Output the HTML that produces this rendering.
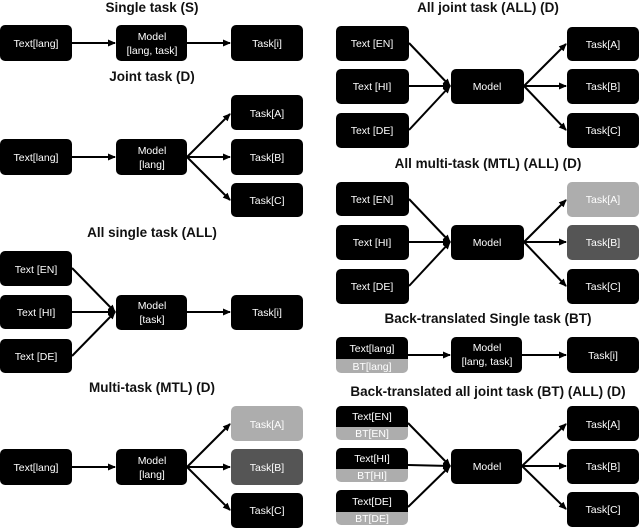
<!DOCTYPE html>
<html><head><meta charset="utf-8"><style>
html,body{margin:0;padding:0;background:#fff;}
svg{display:block;}
.t{font-family:"Liberation Sans",sans-serif;font-weight:bold;font-size:13.5px;fill:#111;text-anchor:middle;}
.l{font-family:"Liberation Sans",sans-serif;font-size:10.5px;fill:#fff;text-anchor:middle;}
.g{fill:#222;}
</style></head><body>
<svg width="640" height="528" viewBox="0 0 640 528" xmlns="http://www.w3.org/2000/svg">
<defs><marker id="a" markerWidth="8" markerHeight="8" refX="7" refY="4" orient="auto" markerUnits="userSpaceOnUse"><path d="M0,0.5 L8,4 L0,7.5 z" fill="#000"/></marker></defs>
<g stroke="#000" stroke-width="2" fill="none" marker-end="url(#a)">
<!-- single task -->
<line x1="72" y1="43" x2="115" y2="43"/><line x1="187" y1="43" x2="230" y2="43"/>
<!-- joint -->
<line x1="72" y1="157" x2="115" y2="157"/>
<line x1="187" y1="157" x2="230" y2="114"/><line x1="187" y1="157" x2="230" y2="157"/><line x1="187" y1="157" x2="230" y2="200"/>
<!-- all single -->
<line x1="72" y1="268" x2="115" y2="312"/><line x1="72" y1="312" x2="115" y2="312"/><line x1="72" y1="356" x2="115" y2="312"/>
<line x1="187" y1="312" x2="230" y2="312"/>
<!-- multi -->
<line x1="72" y1="467" x2="115" y2="467"/>
<line x1="187" y1="467" x2="230" y2="424"/><line x1="187" y1="467" x2="230" y2="467"/><line x1="187" y1="467" x2="230" y2="510"/>
<!-- all joint -->
<line x1="409" y1="43" x2="450" y2="86"/><line x1="409" y1="86" x2="450" y2="86"/><line x1="409" y1="130" x2="450" y2="86"/>
<line x1="524" y1="86" x2="566" y2="44"/><line x1="524" y1="86" x2="566" y2="86"/><line x1="524" y1="86" x2="566" y2="130"/>
<!-- all mtl -->
<line x1="409" y1="199" x2="450" y2="242"/><line x1="409" y1="242" x2="450" y2="242"/><line x1="409" y1="286" x2="450" y2="242"/>
<line x1="524" y1="242" x2="566" y2="200"/><line x1="524" y1="242" x2="566" y2="242"/><line x1="524" y1="242" x2="566" y2="286"/>
<!-- bt single -->
<line x1="408" y1="355" x2="450" y2="355"/><line x1="522" y1="355" x2="566" y2="355"/>
<!-- bt all -->
<line x1="408" y1="423" x2="450" y2="466"/><line x1="408" y1="465" x2="450" y2="466"/><line x1="408" y1="507" x2="450" y2="466"/>
<line x1="522" y1="466" x2="566" y2="424"/><line x1="522" y1="466" x2="566" y2="466"/><line x1="522" y1="466" x2="566" y2="509"/>
</g>

<!-- titles -->
<text class="t" x="152" y="12">Single task (S)</text>
<text class="t" x="152" y="81">Joint task (D)</text>
<text class="t" x="152" y="237">All single task (ALL)</text>
<text class="t" x="152" y="392">Multi-task (MTL) (D)</text>
<text class="t" x="488" y="12">All joint task (ALL) (D)</text>
<text class="t" x="488" y="168">All multi-task (MTL) (ALL) (D)</text>
<text class="t" x="488" y="323">Back-translated Single task (BT)</text>
<text class="t" x="488" y="396">Back-translated all joint task (BT) (ALL) (D)</text>

<g fill="#000">
<!-- left col -->
<rect x="0" y="25" width="72" height="36" rx="5"/><rect x="116" y="25" width="71" height="36" rx="5"/><rect x="231" y="25" width="72" height="36" rx="5"/>
<rect x="231" y="95" width="72" height="35" rx="5"/><rect x="0" y="139" width="72" height="36" rx="5"/><rect x="116" y="139" width="71" height="36" rx="5"/><rect x="231" y="139" width="72" height="36" rx="5"/><rect x="231" y="183" width="72" height="34" rx="5"/>
<rect x="0" y="251" width="72" height="35" rx="5"/><rect x="0" y="295" width="72" height="34" rx="5"/><rect x="0" y="339" width="72" height="34" rx="5"/><rect x="116" y="295" width="71" height="35" rx="5"/><rect x="231" y="295" width="72" height="35" rx="5"/>
<rect x="231" y="406" width="72" height="35" rx="5" fill="#adadad"/><rect x="0" y="449" width="72" height="36" rx="5"/><rect x="116" y="449" width="71" height="36" rx="5"/><rect x="231" y="449" width="72" height="36" rx="5" fill="#555"/><rect x="231" y="493" width="72" height="35" rx="5"/>
<!-- right col -->
<rect x="336" y="26" width="73" height="35" rx="5"/><rect x="336" y="69" width="73" height="35" rx="5"/><rect x="336" y="113" width="73" height="35" rx="5"/><rect x="451" y="69" width="73" height="35" rx="5"/>
<rect x="567" y="27" width="72" height="34" rx="5"/><rect x="567" y="69" width="72" height="35" rx="5"/><rect x="567" y="113" width="72" height="35" rx="5"/>
<rect x="336" y="182" width="73" height="34" rx="5"/><rect x="336" y="225" width="73" height="35" rx="5"/><rect x="336" y="269" width="73" height="35" rx="5"/><rect x="451" y="225" width="73" height="35" rx="5"/>
<rect x="567" y="182" width="72" height="35" rx="5" fill="#adadad"/><rect x="567" y="225" width="72" height="35" rx="5" fill="#555"/><rect x="567" y="269" width="72" height="35" rx="5"/>
<!-- bt single -->
<rect x="336" y="337" width="72" height="36" rx="5" fill="#adadad"/><path d="M341,337 h62 a5,5 0 0 1 5,5 v17 h-72 v-17 a5,5 0 0 1 5,-5z"/>
<rect x="451" y="337" width="71" height="36" rx="5"/><rect x="567" y="337" width="72" height="36" rx="5"/>
<!-- bt all -->
<rect x="336" y="406" width="72" height="34" rx="5" fill="#adadad"/><path d="M341,406 h62 a5,5 0 0 1 5,5 v16 h-72 v-16 a5,5 0 0 1 5,-5z"/>
<rect x="336" y="448" width="72" height="34" rx="5" fill="#adadad"/><path d="M341,448 h62 a5,5 0 0 1 5,5 v16 h-72 v-16 a5,5 0 0 1 5,-5z"/>
<rect x="336" y="490" width="72" height="35" rx="5" fill="#adadad"/><path d="M341,490 h62 a5,5 0 0 1 5,5 v17 h-72 v-17 a5,5 0 0 1 5,-5z"/>
<rect x="451" y="449" width="71" height="35" rx="5"/>
<rect x="567" y="406" width="72" height="35" rx="5"/><rect x="567" y="449" width="72" height="35" rx="5"/><rect x="567" y="492" width="72" height="35" rx="5"/>
</g>

<g class="l">
<text class="l" x="36" y="47">Text[lang]</text>
<text class="l" x="152" y="40">Model</text><text class="l" x="152" y="54">[lang, task]</text>
<text class="l" x="267" y="47">Task[i]</text>
<text class="l" x="267" y="117">Task[A]</text>
<text class="l" x="36" y="161">Text[lang]</text>
<text class="l" x="152" y="154">Model</text><text class="l" x="152" y="168">[lang]</text>
<text class="l" x="267" y="161">Task[B]</text>
<text class="l" x="267" y="204">Task[C]</text>
<text class="l" x="36" y="273">Text [EN]</text>
<text class="l" x="36" y="316">Text [HI]</text>
<text class="l" x="36" y="360">Text [DE]</text>
<text class="l" x="152" y="309">Model</text><text class="l" x="152" y="323">[task]</text>
<text class="l" x="267" y="316">Task[i]</text>
<text class="l" x="267" y="428" fill="#ddd">Task[A]</text>
<text class="l" x="36" y="471">Text[lang]</text>
<text class="l" x="152" y="464">Model</text><text class="l" x="152" y="478">[lang]</text>
<text class="l" x="267" y="471">Task[B]</text>
<text class="l" x="267" y="514">Task[C]</text>

<text class="l" x="372" y="47">Text [EN]</text>
<text class="l" x="372" y="90">Text [HI]</text>
<text class="l" x="372" y="134">Text [DE]</text>
<text class="l" x="487" y="90">Model</text>
<text class="l" x="603" y="48">Task[A]</text>
<text class="l" x="603" y="90">Task[B]</text>
<text class="l" x="603" y="134">Task[C]</text>
<text class="l" x="372" y="203">Text [EN]</text>
<text class="l" x="372" y="246">Text [HI]</text>
<text class="l" x="372" y="290">Text [DE]</text>
<text class="l" x="487" y="246">Model</text>
<text class="l" x="603" y="203">Task[A]</text>
<text class="l" x="603" y="246">Task[B]</text>
<text class="l" x="603" y="290">Task[C]</text>

<text class="l" x="372" y="352">Text[lang]</text><text class="l" x="372" y="370">BT[lang]</text>
<text class="l" x="487" y="351">Model</text><text class="l" x="487" y="365">[lang, task]</text>
<text class="l" x="603" y="359">Task[i]</text>
<text class="l" x="372" y="420">Text[EN]</text><text class="l" x="372" y="437">BT[EN]</text>
<text class="l" x="372" y="462">Text[HI]</text><text class="l" x="372" y="479">BT[HI]</text>
<text class="l" x="372" y="505">Text[DE]</text><text class="l" x="372" y="522">BT[DE]</text>
<text class="l" x="487" y="470">Model</text>
<text class="l" x="603" y="428">Task[A]</text>
<text class="l" x="603" y="470">Task[B]</text>
<text class="l" x="603" y="513">Task[C]</text>
</g>
</svg>
</body></html>
